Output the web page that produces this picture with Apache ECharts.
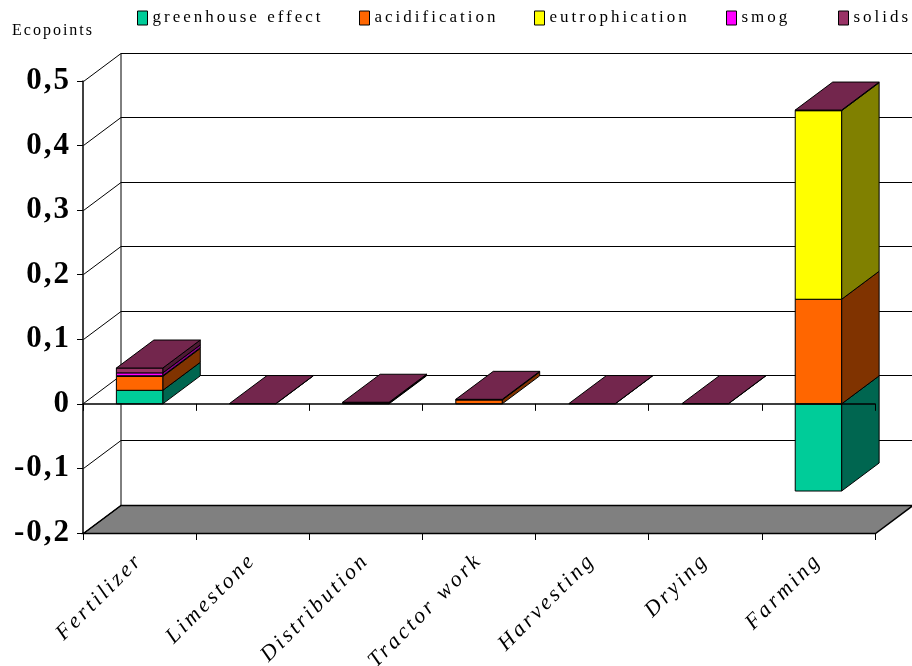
<!DOCTYPE html>
<html>
<head>
<meta charset="utf-8">
<script src="https://cdn.jsdelivr.net/npm/echarts@6/dist/echarts.min.js"></script>
<style>
  html, body { margin: 0; padding: 0; background: #fff; }
  #chart { width: 912px; height: 666px; }
</style>
</head>
<body>
<div id="chart"></div>
<script>
// Categories and impact values (Ecopoints)
const categories = ['Fertilizer', 'Limestone', 'Distribution', 'Tractor work', 'Harvesting', 'Drying', 'Farming'];
const seriesNames = ['greenhouse effect', 'acidification', 'eutrophication', 'smog', 'solids'];
const greenhouse     = [0.021,  0,      0.001,  0,     0,      0,      -0.135];
const acidification  = [0.0215, 0,      0.0005, 0.006, 0,      0,      0.162];
const eutrophication = [0.001,  0,      0,      0,     0,      0,      0.292];
const smog           = [0.0045, 0,      0,      0,     0,      0,      0];
const solids         = [0.0075, 0.0005, 0.001,  0.001, 0.0005, 0.0005, 0.001];
const yTicks = [-0.2, -0.1, 0, 0.1, 0.2, 0.3, 0.4, 0.5];

// Face colours: front, side (shaded) and top
const FRONT = ['#00CC99', '#FF6600', '#FFFF00', '#FF00FF', '#993366'];
const SIDE  = ['#006650', '#803300', '#808000', '#800080', '#4D1A33'];
const TOP   = ['#009973', '#BF4D00', '#BFBF00', '#BF00BF', '#73264D'];
const DX = 37.5, DY = -28;          // depth offset of the 3D box
const BAR_RATIO = 0.41;             // bar width as share of a category
const SERIF = '"Liberation Serif", "Times New Roman", serif';

// Wide-set lettering: tracking per font size, applied when text is measured and drawn
const TRACKING = { 16: '2px', 17: '3px', 22: '3px', 31: '2px' };
(function () {
  const proto = CanvasRenderingContext2D.prototype;
  const fill = proto.fillText, measure = proto.measureText;
  const track = ctx => {
    const m = /(\d+)px/.exec(ctx.font);
    if ('letterSpacing' in ctx) ctx.letterSpacing = (m && TRACKING[m[1]]) || '0px';
  };
  proto.fillText = function () { track(this); return fill.apply(this, arguments); };
  proto.measureText = function () { track(this); return measure.apply(this, arguments); };
})();

const values = [greenhouse, acidification, eutrophication, smog, solids];

// Stack positives upward and negatives downward, in series order
const posAcc = categories.map(() => 0);
const negAcc = categories.map(() => 0);
const stacked = values.map(arr => arr.map((v, i) => {
  let base, top;
  if (v >= 0) { base = posAcc[i]; top = base + v; posAcc[i] = top; }
  else { base = negAcc[i]; top = base + v; negAcc[i] = top; }
  return [i, base, top];
}));

const crisp = v => Math.round(v - 0.5) + 0.5;

function frameRenderer(params, api) {
  const cs = params.coordSys;
  const x0 = crisp(cs.x), x1 = crisp(cs.x + cs.width);
  const yT = crisp(cs.y), yB = crisp(cs.y + cs.height);
  const ln = { stroke: '#000', lineWidth: 1 };
  const kids = [];
  // floor
  kids.push({
    type: 'polygon',
    shape: { points: [[x0, yB], [x1, yB], [x1 + DX, yB + DY], [x0 + DX, yB + DY]] },
    style: { fill: '#808080', stroke: '#000', lineWidth: 1.5 }
  });
  // back-wall gridlines and side-wall diagonals
  yTicks.forEach(v => {
    const y = crisp(api.coord([0, v])[1]);
    kids.push({ type: 'line', shape: { x1: x0 + DX, y1: y + DY, x2: x1 + DX, y2: y + DY }, style: ln });
    kids.push({ type: 'line', shape: { x1: x0, y1: y, x2: x0 + DX, y2: y + DY }, style: ln });
  });
  kids.push({ type: 'line', shape: { x1: x0 + DX, y1: yT + DY, x2: x0 + DX, y2: yB + DY }, style: ln });
  return { type: 'group', children: kids };
}

function boxRenderer(si) {
  const last = si === values.length - 1;
  return function (params, api) {
    const cat = api.value(0), b = api.value(1), t = api.value(2);
    const p0 = api.coord([cat, b]), p1 = api.coord([cat, t]);
    const w = api.size([1, 0])[0] * BAR_RATIO;
    const xL = p0[0] - w / 2, xR = p0[0] + w / 2;
    const yHi = Math.min(p0[1], p1[1]), yLo = Math.max(p0[1], p1[1]);
    const st = { stroke: '#000', lineWidth: 1 };
    const kids = [];
    if (t !== b) {
      kids.push({
        type: 'polygon',
        shape: { points: [[xR, yLo], [xR + DX, yLo + DY], [xR + DX, yHi + DY], [xR, yHi]] },
        style: Object.assign({ fill: SIDE[si] }, st)
      });
      kids.push({
        type: 'rect',
        shape: { x: xL, y: yHi, width: w, height: yLo - yHi },
        style: Object.assign({ fill: FRONT[si] }, st)
      });
    }
    if (last) {
      kids.push({
        type: 'polygon',
        shape: { points: [[xL, yHi], [xR, yHi], [xR + DX, yHi + DY], [xL + DX, yHi + DY]] },
        style: Object.assign({ fill: TOP[si] }, st)
      });
    }
    return { type: 'group', children: kids };
  };
}

const legendX = [132, 354, 529, 721, 833];

const option = {
  animation: false,
  backgroundColor: '#fff',
  title: {
    text: 'Ecopoints', left: 7, top: 17,
    textStyle: { fontFamily: SERIF, fontSize: 16, fontWeight: 'normal', color: '#000' }
  },
  legend: seriesNames.map((n, i) => ({
    data: [n], left: legendX[i], top: 3, icon: 'rect',
    itemWidth: 10, itemHeight: 14, selectedMode: false,
    itemStyle: { borderColor: '#000', borderWidth: 1 },
    textStyle: { fontFamily: SERIF, fontSize: 17, color: '#000' }
  })),
  grid: { left: 83, top: 81, width: 792, height: 452, outerBoundsMode: 'none', containLabel: false },
  xAxis: [{
    type: 'category', data: categories, position: 'bottom',
    axisLine: { onZero: false, lineStyle: { color: '#000', width: 1.5 } },
    axisTick: { show: true, length: 7, lineStyle: { color: '#000' } },
    axisLabel: {
      rotate: 45, margin: 24, interval: 0,
      fontFamily: SERIF, fontStyle: 'italic', fontSize: 22, color: '#000'
    },
    splitLine: { show: false }
  }, {
    type: 'category', data: categories, position: 'top', z: 10,
    axisLine: { onZero: true, lineStyle: { color: '#000', width: 1.5 } },
    axisTick: { show: true, inside: true, length: 7, lineStyle: { color: '#000' } },
    axisLabel: { show: false },
    splitLine: { show: false }
  }],
  yAxis: {
    type: 'value', min: yTicks[0], max: yTicks[yTicks.length - 1], interval: 0.1,
    axisLine: { show: true, lineStyle: { color: '#000', width: 1.5 } },
    axisTick: { show: true, length: 6, lineStyle: { color: '#000' } },
    splitLine: { show: false },
    axisLabel: {
      margin: 12, fontFamily: SERIF, fontWeight: 'bold', fontSize: 31, color: '#000',
      formatter: v => {
        const r = Math.round(v * 10) / 10;
        return r === 0 ? '0' : String(r).replace('.', ',');
      }
    }
  },
  series: [{
    type: 'custom', name: 'frame', silent: true, z: 1,
    renderItem: frameRenderer, data: [[0, 0]], encode: { x: 0, y: 1 }
  }].concat(seriesNames.map((n, si) => ({
    type: 'custom', name: n, silent: true, z: 2,
    itemStyle: { color: FRONT[si] },
    renderItem: boxRenderer(si),
    encode: { x: 0, y: [1, 2] },
    data: stacked[si]
  })))
};

const chart = echarts.init(document.getElementById('chart'));
chart.setOption(option);
</script>
</body>
</html>
